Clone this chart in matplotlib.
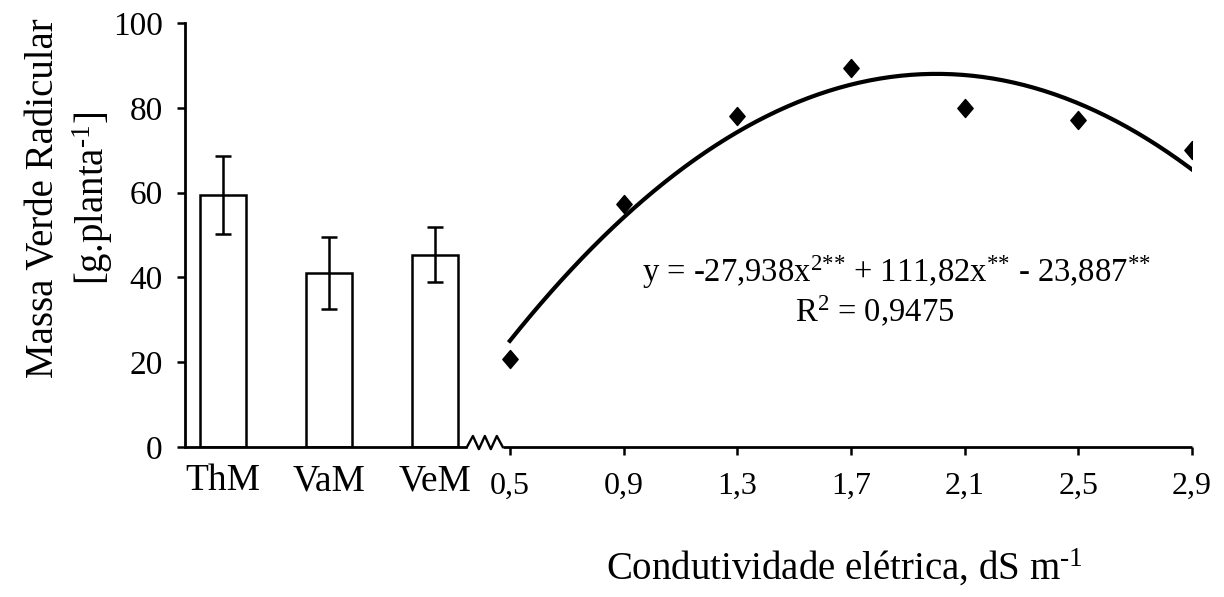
import numpy as np
import matplotlib
matplotlib.use("Agg")
import matplotlib.pyplot as plt
from matplotlib.path import Path

plt.rcParams['font.family'] = ['Liberation Serif', 'DejaVu Serif']
plt.rcParams['mathtext.fontset'] = 'custom'
plt.rcParams['mathtext.rm'] = 'Liberation Serif'
plt.rcParams['mathtext.it'] = 'Liberation Serif:italic'

# ---- data ----
categories = ['ThM', 'VaM', 'VeM']
bar_means = [59.4, 41.0, 45.3]
bar_errors = [9.2, 8.5, 6.5]

ec_values = [0.5, 0.9, 1.3, 1.7, 2.1, 2.5, 2.9]
ec_mass = [20.7, 57.3, 78.0, 89.4, 80.0, 77.1, 70.0]
ec_ticklabels = ['0,5', '0,9', '1,3', '1,7', '2,1', '2,5', '2,9']

coef_a, coef_b, coef_c = -27.938, 111.82, -23.887
eq_text = r'y = -27,938x$^{\text{2**}}$ + 111,82x$^{\text{**}}$ - 23,887$^{\text{**}}$'
r2_text = r'R$^{\text{2}}$ = 0,9475'

# ---- layout ----
W, H = 1224, 597
fig = plt.figure(figsize=(W / 100, H / 100), dpi=100)
ax = fig.add_axes([185 / W, 1 - 447 / H, (1192 - 185) / W, (447 - 23) / H])

x_left, x_right = -0.643, 2.9
bar_pos = [-0.51, -0.137, 0.236]
bar_width = 0.162
break_start, break_end = 0.349, 0.475

ax.set_xlim(x_left, x_right)
ax.set_ylim(0, 100)

ax.bar(bar_pos, bar_means, width=bar_width, color='white', edgecolor='black',
       linewidth=1.8, zorder=2)
ax.errorbar(bar_pos, bar_means, yerr=bar_errors, fmt='none', ecolor='black',
            elinewidth=1.8, capsize=6, capthick=1.8, zorder=3)

# trend line from the displayed regression equation
xs = np.linspace(ec_values[0], ec_values[-1], 200)
ys = coef_a * xs ** 2 + coef_b * xs + coef_c
ax.plot(xs, ys, color='black', linewidth=3.0, zorder=3)

diamond = Path([(0, 1), (0.85, 0), (0, -1), (-0.85, 0), (0, 1)],
               [Path.MOVETO, Path.LINETO, Path.LINETO, Path.LINETO, Path.CLOSEPOLY])
ax.plot(ec_values, ec_mass, linestyle='none', marker=diamond, markersize=13,
        color='black', zorder=4)

# spines
for s in ['top', 'right', 'bottom']:
    ax.spines[s].set_visible(False)
ax.spines['left'].set_linewidth(2.0)

# broken x axis line
lw_axis = 2.0
ax.plot([x_left, break_start], [0, 0], color='black', lw=lw_axis, clip_on=False, zorder=5,
        solid_capstyle='butt')
zx = np.linspace(break_start, break_end, 7)
zy = [0, 2.6, -0.5, 2.6, -0.5, 2.6, 0]
ax.plot(zx, zy, color='black', lw=1.7, clip_on=False, zorder=5)
ax.plot([break_end, x_right], [0, 0], color='black', lw=lw_axis, clip_on=False, zorder=5,
        solid_capstyle='butt')

# ticks
ax.set_yticks([0, 20, 40, 60, 80, 100])
ax.tick_params(axis='y', direction='out', length=6, width=1.8, labelsize=24, pad=10)
ax.set_xticks(ec_values, ec_ticklabels)
ax.tick_params(axis='x', which='major', direction='out', length=6, width=1.8,
               labelsize=23, pad=12)
ax.set_xticks(bar_pos, categories, minor=True)
ax.tick_params(axis='x', which='minor', length=0, labelsize=27, pad=12)

fig.text(70 / W, 1 - 198 / H, 'Massa Verde Radicular\n[g.planta$^{\\text{-1}}$]',
         fontsize=28, rotation=90, ha='center', va='center', linespacing=1.25,
         multialignment='center')

fig.text(844 / W, 1 - 568 / H, r'Condutividade elétrica, dS m$^{\text{-1}}$',
         fontsize=28, ha='center', va='center')

fig.text(896 / W, 1 - 272 / H, eq_text, fontsize=23.5, ha='center', va='center')
fig.text(875 / W, 1 - 312 / H, r2_text, fontsize=23.5, ha='center', va='center')

fig.savefig('out.png', dpi=100)
